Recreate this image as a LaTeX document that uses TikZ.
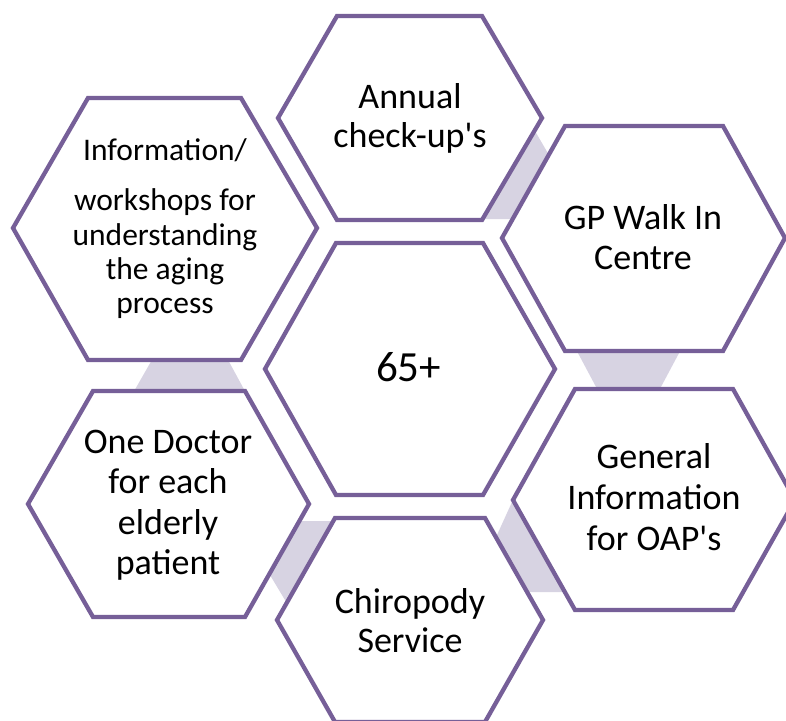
\documentclass[tikz,border=0pt]{standalone}
\usepackage{fontspec}
\newfontfamily\calfont{Carlito}
\definecolor{hexline}{RGB}{118,95,152}
\definecolor{linkfill}{RGB}{215,211,226}
\begin{document}
\begin{tikzpicture}[x=1pt,y=-1pt,
  hexagon/.style={draw=hexline, line width=4.3pt, fill=white, line join=miter},
  link/.style={fill=linkfill, draw=none},
  lbl/.style={anchor=base, inner sep=0pt, font=\calfont\fontsize{36}{40}\selectfont},
  smalllbl/.style={anchor=base, inner sep=0pt, font=\calfont\fontsize{31.5}{35}\selectfont},
  biglbl/.style={anchor=base, inner sep=0pt, font=\calfont\fontsize{43}{48}\selectfont}]
\useasboundingbox (0,0) rectangle (786,720);

% connector bands (behind the hexagons)
\fill[link] (470,119) -- (528,119) -- (560,174) -- (530,219) -- (470,219) -- cycle;
\fill[link] (571,340) -- (686,340) -- (654,400) -- (603,400) -- cycle;
\fill[link] (153,358) -- (227,358) -- (246,393) -- (133,393) -- cycle;
\fill[link] (255,550) -- (285,521) -- (345,521) -- (300,625) -- cycle;
\fill[link] (482,568) -- (512,502) -- (560,520) -- (590,592) -- (500,592) -- cycle;

% hexagons
\draw[hexagon] (88,98) -- (241,98) -- (317,228) -- (241,360) -- (88,360) -- (13,228) -- cycle;
\draw[hexagon] (337,16) -- (482,16) -- (542,118) -- (482,220) -- (337,220) -- (278,118) -- cycle;
\draw[hexagon] (565,126) -- (723,126) -- (785,238) -- (723,351) -- (565,351) -- (502,238) -- cycle;
\draw[hexagon] (336,243) -- (483,243) -- (555,369) -- (483,495) -- (336,495) -- (265,369) -- cycle;
\draw[hexagon] (93,391) -- (245,391) -- (309,504) -- (245,617) -- (93,617) -- (28,504) -- cycle;
\draw[hexagon] (575,389) -- (733,389) -- (795,500) -- (733,610) -- (575,610) -- (513,500) -- cycle;
\draw[hexagon] (335,518) -- (485,518) -- (543,620) -- (485,722) -- (335,722) -- (277,620) -- cycle;

% labels
\node[smalllbl] (info1) at (165,160) {Information/};
\node[smalllbl] (info2) at (165,210) {workshops for};
\node[smalllbl] (info3) at (165,245) {understanding};
\node[smalllbl] (info4) at (165,279) {the aging};
\node[smalllbl] (info5) at (165,313) {process};

\node[lbl] (ann1) at (410,108) {Annual};
\node[lbl] (ann2) at (410,147) {check-up's};

\node[lbl] (gp1) at (643,229) {GP Walk In};
\node[lbl] (gp2) at (643,269) {Centre};

\node[biglbl] (ctr) at (408.5,381) {65+};

\node[lbl] (doc1) at (168,453) {One Doctor};
\node[lbl] (doc2) at (168,493.5) {for each};
\node[lbl] (doc3) at (168,534) {elderly};
\node[lbl] (doc4) at (168,574.5) {patient};

\node[lbl] (gen1) at (654,468) {General};
\node[lbl] (gen2) at (654,509) {Information};
\node[lbl] (gen3) at (654,550) {for OAP's};

\node[lbl] (chi1) at (410,613) {Chiropody};
\node[lbl] (chi2) at (410,652) {Service};
\end{tikzpicture}
\end{document}
